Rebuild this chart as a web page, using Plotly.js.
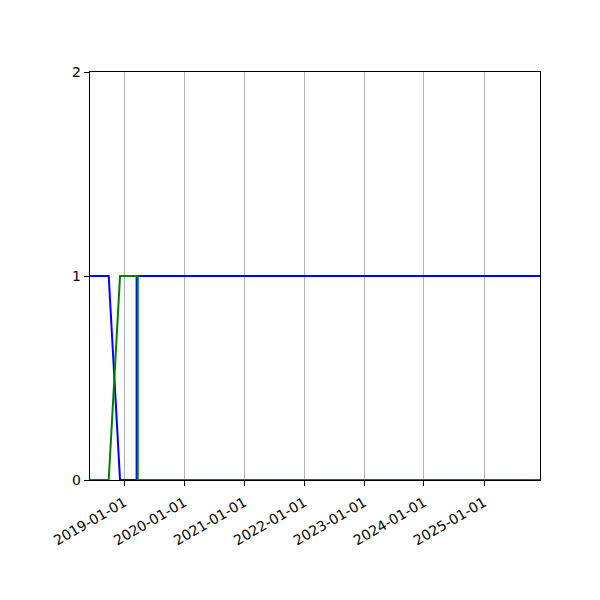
<!DOCTYPE html>
<html>
<head>
<meta charset="utf-8">
<script src="https://cdn.plot.ly/plotly-3.0.1.min.js"></script>
<style>body{margin:0;padding:0;background:#fff;} #chart{width:600px;height:600px;}</style>
</head>
<body>
<div id="chart"></div>
<script>
const blueDates = ["2018-06-06", "2018-09-28", "2018-12-06", "2019-03-17", "2019-03-17", "2025-12-08"];
const blueValues = [1, 1, 0, 0, 1, 1];
const greenDates = ["2018-06-06", "2018-09-28", "2018-12-06", "2019-03-24", "2019-03-24", "2025-12-08"];
const greenValues = [0, 0, 1, 1, 0, 0];
const xTickVals = ["2019-01-01", "2020-01-01", "2021-01-01", "2022-01-01", "2023-01-01", "2024-01-01", "2025-01-01"];
const xTickText = ["2019-01-01", "2020-01-01", "2021-01-01", "2022-01-01", "2023-01-01", "2024-01-01", "2025-01-01"];
const yTickVals = [0, 1, 2];
const xRange = ["2018-06-06", "2025-12-08"];

const traces = [
  {x: blueDates, y: blueValues, type: "scatter", mode: "lines", line: {color: "#0000ff", width: 2}, hoverinfo: "skip"},
  {x: greenDates, y: greenValues, type: "scatter", mode: "lines", line: {color: "#008000", width: 2}, hoverinfo: "skip"}
];
const layout = {
  width: 600, height: 600,
  margin: {l: 90, r: 60, t: 72, b: 120, pad: 0},
  paper_bgcolor: "#fff", plot_bgcolor: "#fff",
  showlegend: false,
  font: {family: "DejaVu Sans", size: 14, color: "#000"},
  xaxis: {
    type: "date", range: xRange,
    tickmode: "array", tickvals: xTickVals, ticktext: xTickText,
    tickangle: -30, ticklabelstandoff: 3,
    showgrid: true, gridcolor: "#b0b0b0", gridwidth: 1,
    showline: true, linecolor: "#000", linewidth: 1.2, mirror: true,
    ticks: "outside", ticklen: 5, tickcolor: "#000", tickwidth: 1,
    zeroline: false, tickfont: {family: "DejaVu Sans", size: 14}
  },
  yaxis: {
    range: [0, 2], tickmode: "array", tickvals: yTickVals, ticktext: ["0", "1", "2"],
    showgrid: false,
    showline: true, linecolor: "#000", linewidth: 1.2, mirror: true,
    ticks: "outside", ticklen: 5, tickcolor: "#000", tickwidth: 1,
    zeroline: false, tickfont: {family: "DejaVu Sans", size: 14}
  }
};
Plotly.newPlot("chart", traces, layout, {displayModeBar: false, staticPlot: true});
</script>
</body>
</html>
